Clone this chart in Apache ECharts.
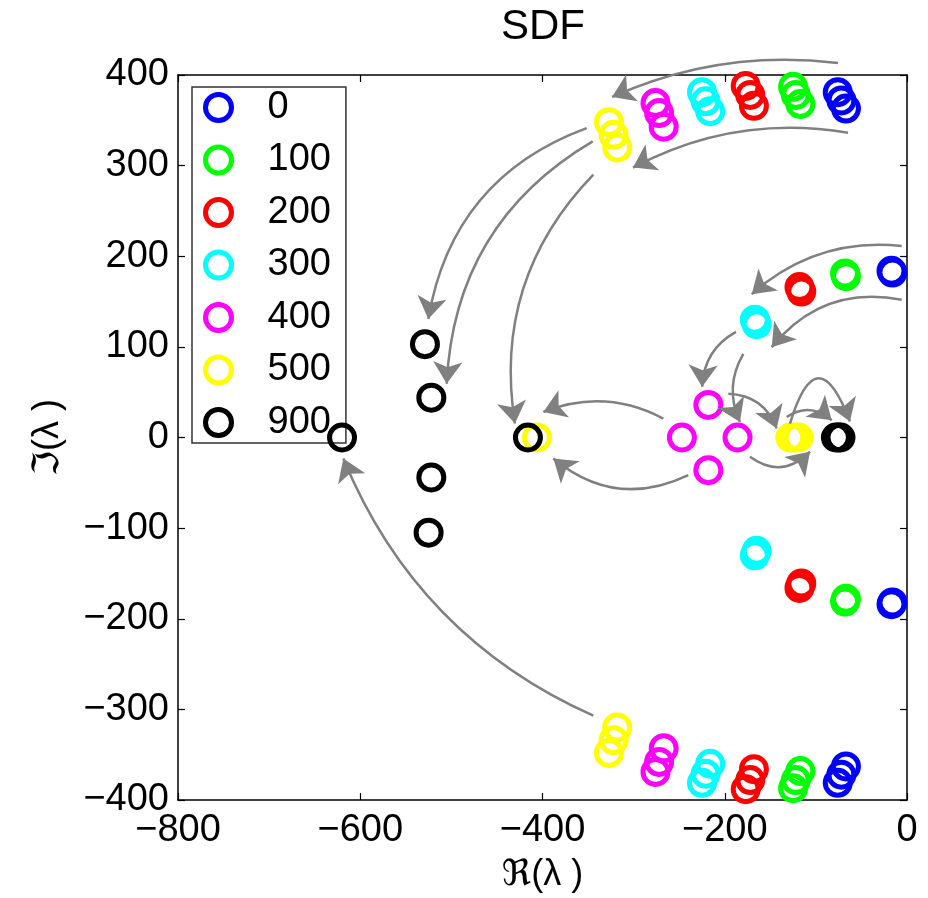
<!DOCTYPE html>
<html>
<head>
<meta charset="utf-8">
<title>SDF</title>
<script src="https://cdn.jsdelivr.net/npm/echarts@6/dist/echarts.min.js"></script>
<style>
  html, body { margin: 0; padding: 0; background: #fff; overflow: hidden; }
  #chart { width: 928px; height: 898px; }
</style>
</head>
<body>
<div id="chart"></div>
<script>
// Eigenvalue locations (real, imaginary) for each parameter value
const seriesNames = ['0', '100', '200', '300', '400', '500', '900'];
const seriesColors = ['#0000ff', '#00ff00', '#ff0000', '#00ffff', '#ff00ff', '#ffff00', '#000000'];

const eig0 = [[-76, 381], [-72, 372], [-67, 363], [-76, -381], [-72, -372], [-67, -363],
              [-17, 184], [-16, 182], [-17, -184], [-16, -182]];
const eig100 = [[-125, 387], [-122, 378], [-117, 368], [-125, -387], [-122, -378], [-117, -368],
                [-68, 181], [-67, 178], [-68, -181], [-67, -178]];
const eig200 = [[-177, 388], [-172, 378], [-168, 366], [-177, -388], [-172, -378], [-168, -366],
                [-118, 166], [-116, 161], [-118, -166], [-116, -161]];
const eig300 = [[-225, 381], [-221, 371], [-216, 360], [-225, -381], [-221, -371], [-216, -360],
                [-167, 130], [-165, 125], [-167, -130], [-165, -125]];
const eig400 = [[-276, 369], [-272, 358], [-267, 343], [-276, -369], [-272, -358], [-267, -343],
                [-218, 36], [-247, 0], [-186, 0], [-218, -36]];
const eig500 = [[-327, 348], [-322, 334], [-318, 320], [-327, -348], [-322, -334], [-318, -320],
                [-406, 0], [-128, 0], [-124, 0], [-119, 0]];
const eig900 = [[-529, 103], [-522, 44], [-620, 0], [-522, -44], [-525, -105],
                [-416, 0], [-78, 0], [-75, 0], [-73, 0]];
const eigenGroups = [eig0, eig100, eig200, eig300, eig400, eig500, eig900];

// Axis extents and tick steps
const xRange = [-800, 0];
const xStep = 200;
const yRange = [-400, 400];
const yStep = 100;

// Trajectory arrows in data space: start, end, bend of the arc
const arrowPaths = [
  { from: [-75.7, 413.2], to: [-323.7, 375.8], bend: -0.14 },
  { from: [-64.7, 336.3], to: [-300.7, 297.8], bend: -0.17 },
  { from: [-351.5, 341.4], to: [-525.3, 130.8], bend: -0.29 },
  { from: [-344.9, 326.7], to: [-505.1, 59.3], bend: -0.27 },
  { from: [-344.2, 290.1], to: [-430.2, 15.4], bend: -0.25 },
  { from: [-344.2, -306.9], to: [-618.6, -23.1], bend: 0.2 },
  { from: [-5.8, 211.3], to: [-170.4, 158.2], bend: -0.22 },
  { from: [-5.8, 152.0], to: [-148.5, 99.7], bend: -0.3 },
  { from: [-187.7, 116.5], to: [-224.8, 56.0], bend: -0.28 },
  { from: [-179.6, 92.3], to: [-183.3, 17.2], bend: -0.26 },
  { from: [-196.1, 48.4], to: [-143.0, 10.0], bend: 0.33 },
  { from: [-172.3, -21.2], to: [-106.4, -15.7], bend: -0.43 },
  { from: [-267.4, 20.9], to: [-399.1, 28.2], bend: -0.23 },
  { from: [-240.0, -41.4], to: [-388.1, -23.1], bend: 0.32 },
  { from: [-132.0, 22.7], to: [-82.6, 19.0], bend: 0.38 },
  { from: [-128.4, 15.4], to: [-62.6, 17.6], bend: 1.48 }
];

const FONT = '"Liberation Sans", Arial, Helvetica, "DejaVu Sans", sans-serif';
const fmtTick = v => (v < 0 ? '\u2212' + Math.abs(v) : String(v));

const chart = echarts.init(document.getElementById('chart'), null, {
  renderer: 'canvas', width: 928, height: 898
});

const ringSeries = seriesNames.map((name, i) => ({
  name: name,
  type: 'scatter',
  xAxisIndex: 0,
  yAxisIndex: 0,
  symbol: 'circle',
  symbolSize: 25,
  silent: true,
  clip: false,
  z: 4,
  itemStyle: {
    color: 'none',
    borderColor: seriesColors[i],
    borderWidth: 5,
    opacity: 1
  },
  data: eigenGroups[i]
}));

const arrowSeries = {
  type: 'lines',
  coordinateSystem: 'cartesian2d',
  xAxisIndex: 0,
  yAxisIndex: 0,
  polyline: false,
  silent: true,
  clip: false,
  z: 5,
  symbol: ['none', 'arrow'],
  symbolSize: 22,
  lineStyle: { color: '#808080', width: 2.5, opacity: 1 },
  data: arrowPaths.map(a => ({
    coords: [a.from, a.to],
    lineStyle: { curveness: a.bend, color: '#808080', width: 2.5 }
  }))
};

const baseAxisLine = { show: true, onZero: false, lineStyle: { color: '#000', width: 1.5 } };
const tickStyle = { show: true, inside: true, length: 7, lineStyle: { color: '#000', width: 1.2 } };

chart.setOption({
  animation: false,
  backgroundColor: '#ffffff',
  textStyle: { fontFamily: FONT },
  title: {
    text: 'SDF',
    left: 496,
    top: 1,
    textStyle: { fontSize: 42, fontWeight: 'normal', color: '#000', fontFamily: FONT }
  },
  grid: { left: 178, right: 21, top: 75, bottom: 95, containLabel: false },
  legend: {
    orient: 'vertical',
    left: 192,
    top: 87,
    padding: [1.5, 15, 1.5, 11],
    itemWidth: 26,
    itemHeight: 26,
    itemGap: 14.5,
    borderColor: '#333',
    borderWidth: 1.5,
    backgroundColor: '#fff',
    selectedMode: false,
    z: 2,
    textStyle: { fontSize: 38, color: '#000', fontFamily: FONT, padding: [0, 0, 0, 31] },
    data: seriesNames.map((name, i) => ({
      name: name,
      icon: 'circle',
      itemStyle: { color: 'none', borderColor: seriesColors[i], borderWidth: 5 }
    }))
  },
  xAxis: [
    {
      type: 'value',
      position: 'bottom',
      min: xRange[0], max: xRange[1], interval: xStep,
      name: '\u211C(\u03BB )',
      nameLocation: 'middle',
      nameGap: 57,
      nameTextStyle: { fontSize: 36, color: '#000', fontFamily: FONT },
      axisLine: baseAxisLine,
      axisTick: tickStyle,
      axisLabel: { show: true, fontSize: 38, color: '#000', margin: 12, formatter: fmtTick, fontFamily: FONT },
      splitLine: { show: false }
    },
    {
      type: 'value',
      position: 'top',
      min: xRange[0], max: xRange[1], interval: xStep,
      axisLine: baseAxisLine,
      axisTick: tickStyle,
      axisLabel: { show: false },
      splitLine: { show: false }
    }
  ],
  yAxis: [
    {
      type: 'value',
      position: 'left',
      min: yRange[0], max: yRange[1], interval: yStep,
      name: '\u2111(\u03BB )',
      nameLocation: 'middle',
      nameRotate: 90,
      nameGap: 112,
      nameTextStyle: { fontSize: 36, color: '#000', fontFamily: FONT },
      axisLine: baseAxisLine,
      axisTick: tickStyle,
      axisLabel: { show: true, fontSize: 38, color: '#000', margin: 9, padding: [2, 0, 0, 0], formatter: fmtTick, fontFamily: FONT },
      splitLine: { show: false }
    },
    {
      type: 'value',
      position: 'right',
      min: yRange[0], max: yRange[1], interval: yStep,
      axisLine: baseAxisLine,
      axisTick: tickStyle,
      axisLabel: { show: false },
      splitLine: { show: false }
    }
  ],
  series: ringSeries.concat([arrowSeries])
});
</script>
</body>
</html>
